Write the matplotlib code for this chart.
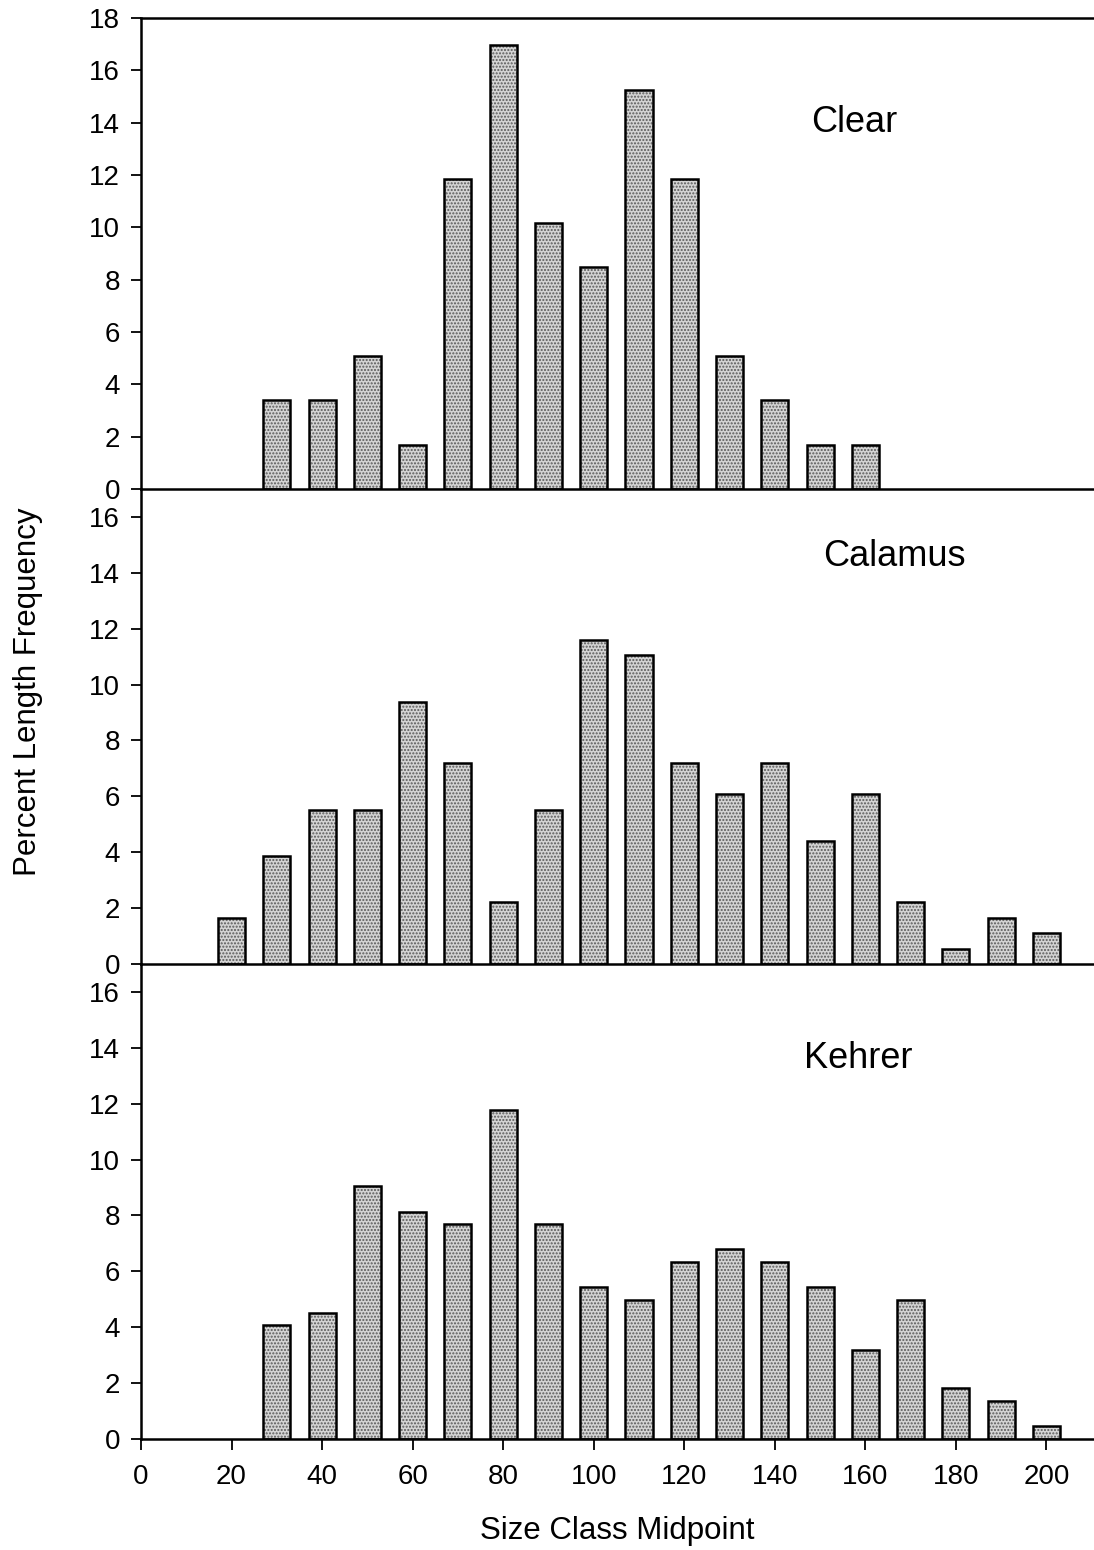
import matplotlib
matplotlib.use("Agg")
import matplotlib.pyplot as plt
import numpy as np

plt.rcParams['font.family'] = ['Liberation Sans', 'DejaVu Sans']

# Size class midpoints and percent length frequencies
clear_x = [30, 40, 50, 60, 70, 80, 90, 100, 110, 120, 130, 140, 150, 160]
clear_y = [3.39, 3.39, 5.08, 1.69, 11.86, 16.95, 10.17, 8.47, 15.25, 11.86, 5.08, 3.39, 1.69, 1.69]

calamus_x = [20, 30, 40, 50, 60, 70, 80, 90, 100, 110, 120, 130, 140, 150, 160, 170, 180, 190, 200]
calamus_y = [1.66, 3.87, 5.52, 5.52, 9.39, 7.18, 2.21, 5.52, 11.60, 11.05, 7.18, 6.08, 7.18, 4.42,
             6.08, 2.21, 0.55, 1.66, 1.10]

kehrer_x = [30, 40, 50, 60, 70, 80, 90, 100, 110, 120, 130, 140, 150, 160, 170, 180, 190, 200]
kehrer_y = [4.07, 4.52, 9.05, 8.14, 7.69, 11.76, 7.69, 5.43, 4.98, 6.33, 6.79, 6.33, 5.43, 3.17,
            4.98, 1.81, 1.36, 0.45]

panel_names = ["Clear", "Calamus", "Kehrer"]
x_ticks = [0, 20, 40, 60, 80, 100, 120, 140, 160, 180, 200]

W, H = 1094, 1550
fig = plt.figure(figsize=(W / 100, H / 100), dpi=100)

left = 141 / W
right = 1.0
bounds_px = [(18, 489), (489, 964), (964, 1439)]
series = [(clear_x, clear_y), (calamus_x, calamus_y), (kehrer_x, kehrer_y)]
ylims = [18, 17, 17]
yticks = [np.arange(0, 19, 2), np.arange(0, 17, 2), np.arange(0, 17, 2)]
label_pos = [(157.5, 14.0), (166.5, 14.6), (158.5, 13.6)]

axes = []
for i, ((t, b), (xs, ys)) in enumerate(zip(bounds_px, series)):
    ax = fig.add_axes([left, 1 - b / H, right - left, (b - t) / H])
    ax.patch.set_visible(False)
    ax.bar(xs, ys, width=6, color='#d4d4d4', edgecolor='#5a5a5a', hatch='.....', linewidth=0, zorder=2)
    ax.bar(xs, ys, width=6, fill=False, edgecolor='black', linewidth=1.8, zorder=3)
    ax.set_xlim(0, 210.5)
    ax.set_ylim(0, ylims[i])
    ax.set_yticks(yticks[i])
    ax.set_xticks(x_ticks)
    ax.tick_params(axis='y', direction='out', length=7, width=1.3, labelsize=20, pad=8)
    ax.tick_params(axis='x', direction='out', length=8, width=1.3, labelsize=20, pad=10)
    for s in ['left', 'bottom', 'top']:
        ax.spines[s].set_linewidth(1.8)
        ax.spines[s].set_zorder(4)
    ax.spines['right'].set_visible(False)
    if i > 0:
        ax.spines['top'].set_visible(False)
    if i < 2:
        ax.tick_params(axis='x', bottom=False, labelbottom=False)
    ax.text(label_pos[i][0], label_pos[i][1], panel_names[i], fontsize=26,
            ha='center', va='center')
    axes.append(ax)

axes[2].set_xlabel("Size Class Midpoint", fontsize=22.5, labelpad=19)
fig.text(28 / W, 1 - 692 / H, "Percent Length Frequency", rotation=90,
         fontsize=22.5, ha='center', va='center')

fig.savefig("out.png", dpi=100)
